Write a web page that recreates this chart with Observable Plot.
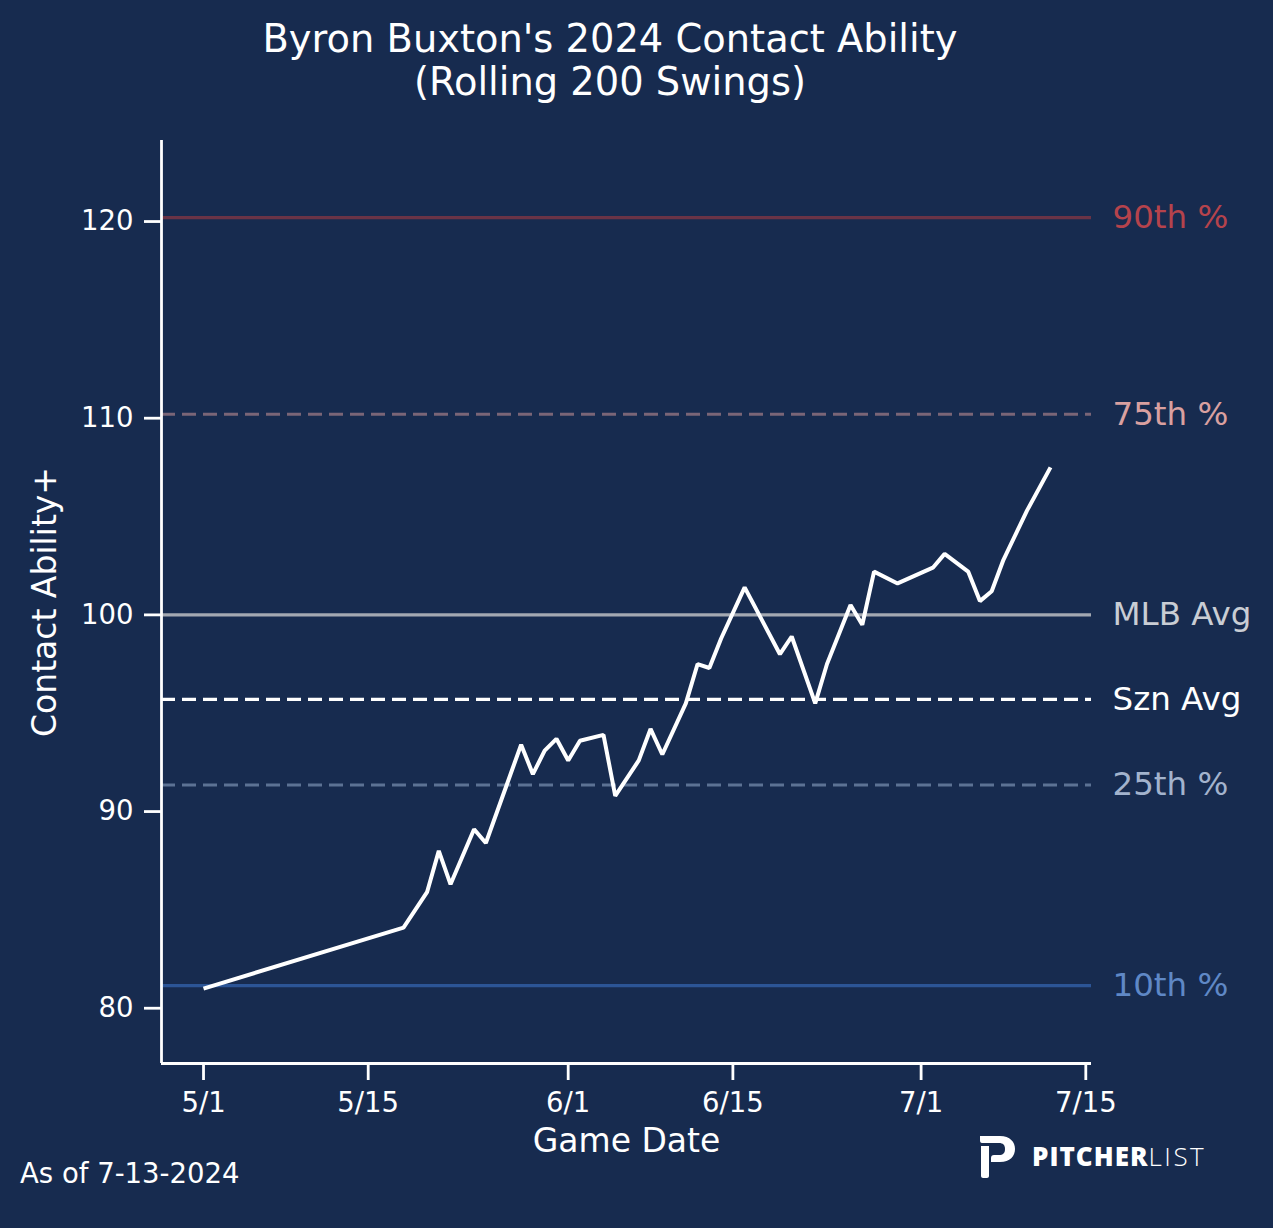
<!DOCTYPE html>
<html>
<head>
<meta charset="utf-8">
<script src="https://cdn.jsdelivr.net/npm/d3@7"></script>
<script src="https://cdn.jsdelivr.net/npm/@observablehq/plot@0.6"></script>
<style>
  html, body { margin: 0; padding: 0; background: #172b4f; }
  body { width: 1273px; height: 1228px; position: relative; overflow: hidden; font-family: "DejaVu Sans", sans-serif; color: #fff; }
  #chart { position: absolute; left: 0; top: 0; }
  #title { position: absolute; left: 210px; width: 800px; top: 17px; text-align: center; font-size: 38.4px; line-height: 43px; color: #fff; }
  #ylabel { position: absolute; left: 45px; top: 602px; width: 0; height: 0; }
  #ylabel div { position: absolute; left: 0; top: 0; transform: translate(-50%, -50%) rotate(-90deg); white-space: nowrap; font-size: 33px; line-height: 40px; color: #fff; }
  #caption { position: absolute; left: 20px; top: 1155px; font-size: 27.5px; line-height: 36px; color: #fff; }
  #logo { position: absolute; left: 978px; top: 1134px; display: flex; align-items: center; }
  #logo .word { font-family: "Open Sans", sans-serif; font-size: 26px; color: #fff; margin-left: 16px; }
  #logo b { font-weight: 800; letter-spacing: 1px; }
  #logo span.l { font-weight: 300; letter-spacing: 2.5px; }
</style>
</head>
<body>
<div id="title">Byron Buxton's 2024 Contact Ability<br>(Rolling 200 Swings)</div>
<div id="chart"></div>
<div id="ylabel"><div>Contact Ability+</div></div>
<div id="caption">As of 7-13-2024</div>
<div id="logo">
  <svg width="38" height="44" viewBox="0 0 38 44">
    <path d="M2 2 L22 2 C32 2 37 8 37 15 C37 22 32 28 22 28 L13 28 L13 24 C13 22 14 21 16 21 L21 21 C25 21 27 19 27 15 C27 11 25 9 21 9 L4 9 C2.5 9 2 8 2 6 Z" fill="#fff"/>
    <path d="M3 12 L11 12 L11 42 C11 43 10 44 9 44 L5 44 C4 44 3 43 3 42 Z" fill="#fff"/>
  </svg>
  <div class="word"><b>PITCHER</b><span class="l">LIST</span></div>
</div>
<script>
// Rolling 200-swing Contact Ability+
const gameDates = ["2024-05-01","2024-05-18","2024-05-20","2024-05-21","2024-05-22","2024-05-24","2024-05-25","2024-05-28","2024-05-29","2024-05-30","2024-05-31","2024-06-01","2024-06-02","2024-06-04","2024-06-05","2024-06-07","2024-06-08","2024-06-09","2024-06-11","2024-06-12","2024-06-13","2024-06-14","2024-06-16","2024-06-19","2024-06-20","2024-06-22","2024-06-23","2024-06-25","2024-06-26","2024-06-27","2024-06-29","2024-07-02","2024-07-03","2024-07-05","2024-07-06","2024-07-07","2024-07-08","2024-07-10","2024-07-12"];
const contactValues = [81.0,84.1,85.9,88.0,86.3,89.1,88.4,93.4,91.9,93.1,93.7,92.6,93.6,93.9,90.8,92.6,94.2,92.9,95.5,97.5,97.3,98.8,101.4,98.0,98.9,95.5,97.5,100.5,99.5,102.2,101.6,102.4,103.1,102.2,100.7,101.2,102.8,105.3,107.5];

// Reference lines
const refLabels = ["90th %","75th %","MLB Avg","Szn Avg","25th %","10th %"];
const refValues = [120.2, 110.2, 100, 95.7, 91.35, 81.15];

// Axis ticks
const xTickDates = ["2024-05-01","2024-05-15","2024-06-01","2024-06-15","2024-07-01","2024-07-15"];
const xTickLabels = ["5/1","5/15","6/1","6/15","7/1","7/15"];
const yTicks = [80, 90, 100, 110, 120];

// Styles (kept apart from data)
const lineColor = {"90th %":"#6a3346","75th %":"#7a6577","MLB Avg":"#a3a8b1","Szn Avg":"#ffffff","25th %":"#5c7294","10th %":"#2c5596"};
const labelColor = {"90th %":"#b5434c","75th %":"#d9a0a0","MLB Avg":"#c9cdd4","Szn Avg":"#ffffff","25th %":"#a3b3cd","10th %":"#5f88c6"};
const dashed = new Set(["75th %","Szn Avg","25th %"]);

const series = gameDates.map((d, i) => ({date: new Date(d + "T00:00:00Z"), value: contactValues[i]}));
const refs = refLabels.map((label, i) => ({label, value: refValues[i]}));
const tickDates = xTickDates.map(d => new Date(d + "T00:00:00Z"));
const tickLabelOf = new Map(tickDates.map((d, i) => [+d, xTickLabels[i]]));

const xDomain = [new Date(Date.UTC(2024, 3, 27, 10, 17)), new Date(Date.UTC(2024, 6, 15, 11, 38))];
const yDomain = [77.19, 124.12];

const chart = Plot.plot({
  width: 1273,
  height: 1228,
  marginLeft: 161,
  marginRight: 182,
  marginTop: 140,
  marginBottom: 165,
  style: {background: "transparent", color: "#fff", fontFamily: "DejaVu Sans, sans-serif", overflow: "visible"},
  x: {type: "utc", domain: xDomain},
  y: {domain: yDomain},
  marks: [
    Plot.ruleY(refs.filter(r => !dashed.has(r.label)), {y: "value", stroke: d => lineColor[d.label], strokeWidth: 3.2}),
    Plot.ruleY(refs.filter(r => dashed.has(r.label)), {y: "value", stroke: d => lineColor[d.label], strokeWidth: 3.2, strokeDasharray: "14,7"}),
    Plot.text(refs, {y: "value", frameAnchor: "right", dx: 21, textAnchor: "start", text: "label", fill: d => labelColor[d.label], fontSize: 32.5}),
    Plot.lineY(series, {x: "date", y: "value", stroke: "#fff", strokeWidth: 4, strokeLinejoin: "miter", strokeLinecap: "butt"}),
    Plot.axisY({ticks: yTicks, tickSize: 17, tickPadding: 11, fontSize: 27.5, stroke: "#fff", strokeWidth: 2.8, strokeOpacity: 1, fill: "#fff", label: null}),
    Plot.axisX({ticks: tickDates, tickFormat: d => tickLabelOf.get(+d), tickSize: 17, tickPadding: 12, fontSize: 27.5, stroke: "#fff", strokeWidth: 2.8, strokeOpacity: 1, fill: "#fff", label: null}),
    Plot.ruleX([xDomain[0]], {stroke: "#fff", strokeWidth: 2.8}),
    Plot.ruleY([yDomain[0]], {stroke: "#fff", strokeWidth: 2.8}),
    Plot.text(["Game Date"], {frameAnchor: "bottom", dy: 88, text: d => d, fill: "#fff", fontSize: 33})
  ]
});
document.getElementById("chart").appendChild(chart);
</script>
</body>
</html>
